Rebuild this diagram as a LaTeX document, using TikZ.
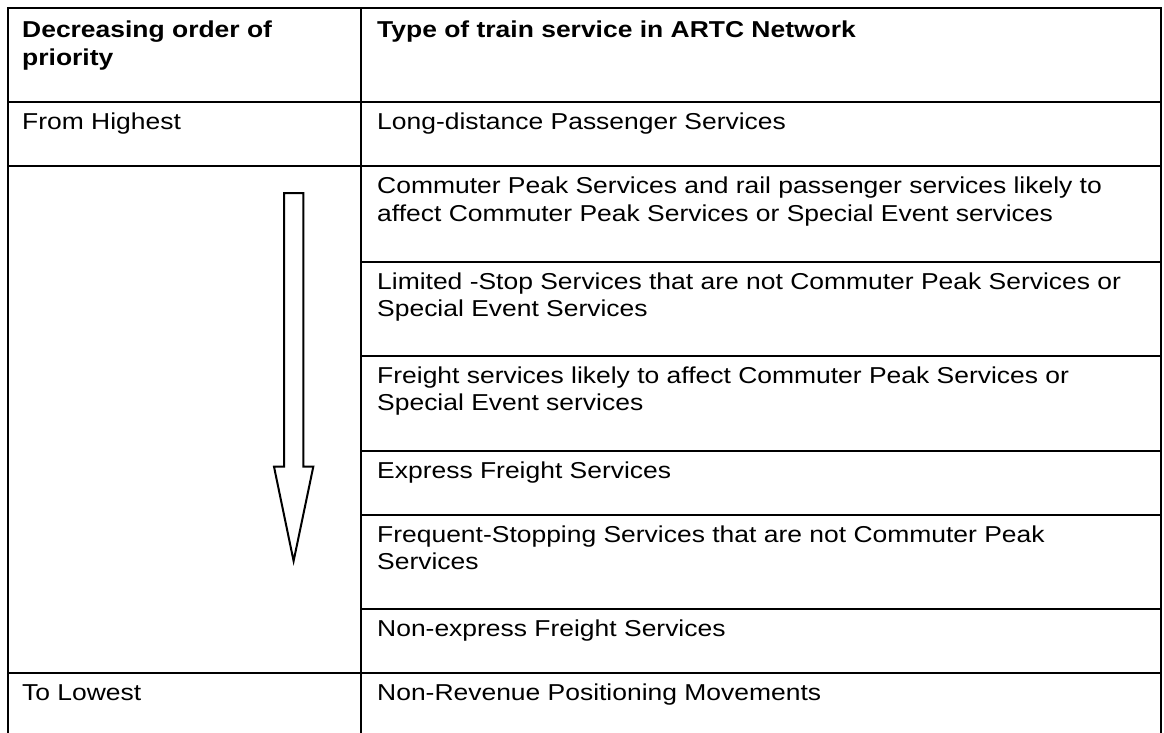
\documentclass[tikz,border=0pt]{standalone}
\usepackage{fontspec}
\setmainfont[FakeStretch=1.15]{Liberation Sans}
\newcommand{\cellfont}{\fontsize{23}{27.7}\selectfont}
\tikzset{
  rule/.style={line width=2.6pt, line cap=rect},
  celltext/.style={anchor=north west, inner sep=0pt, align=left, font=\cellfont},
  headtext/.style={celltext, font=\cellfont\bfseries},
  arrowshape/.style={line width=2pt, line join=miter, fill=white}
}
\begin{document}
\begin{tikzpicture}[x=1pt,y=-1pt]
\useasboundingbox (0,0) rectangle (1164,733);
% grid lines
\draw[rule] (8,733) -- (8,8) -- (1161,8) -- (1161,733);
\draw[rule] (361,8) -- (361,733);
\draw[rule] (8,102) -- (1161,102);
\draw[rule] (8,166) -- (1161,166);
\draw[rule] (8,673) -- (1161,673);
\foreach \yy in {262,356,451,515,609} \draw[rule] (361,\yy) -- (1161,\yy);
% texts (node top = baseline - 19.39)
\node[headtext] (h1) at (22,{37.5-19.39}) {\strut Decreasing order of\\priority};
\node[headtext] (h2) at (377,{37.5-19.39}) {\strut Type of train service in ARTC Network};
\node[celltext] (l1) at (22,{129-19.39}) {\strut From Highest};
\node[celltext] (l2) at (22,{700-19.39}) {\strut To Lowest};
\node[celltext] (r1) at (377,{129-19.39}) {\strut Long-distance Passenger Services};
\node[celltext] (r2) at (377,{193.3-19.39}) {\strut Commuter Peak Services and rail passenger services likely to\\affect Commuter Peak Services or Special Event services};
\node[celltext] (r3) at (377,{289-19.39}) {\strut Limited -Stop Services that are not Commuter Peak Services or\\Special Event Services};
\node[celltext] (r4) at (377,{383-19.39}) {\strut Freight services likely to affect Commuter Peak Services or\\Special Event services};
\node[celltext] (r5) at (377,{478-19.39}) {\strut Express Freight Services};
\node[celltext] (r6) at (377,{542-19.39}) {\strut Frequent-Stopping Services that are not Commuter Peak\\Services};
\node[celltext] (r7) at (377,{636-19.39}) {\strut Non-express Freight Services};
\node[celltext] (r8) at (377,{700-19.39}) {\strut Non-Revenue Positioning Movements};
% priority arrow
\draw[arrowshape] (284,193) -- (303.3,193) -- (303.3,466.7) -- (313.3,466.7)
  -- (293.6,561) -- (274,466.7) -- (284,466.7) -- cycle;
\end{tikzpicture}
\end{document}
